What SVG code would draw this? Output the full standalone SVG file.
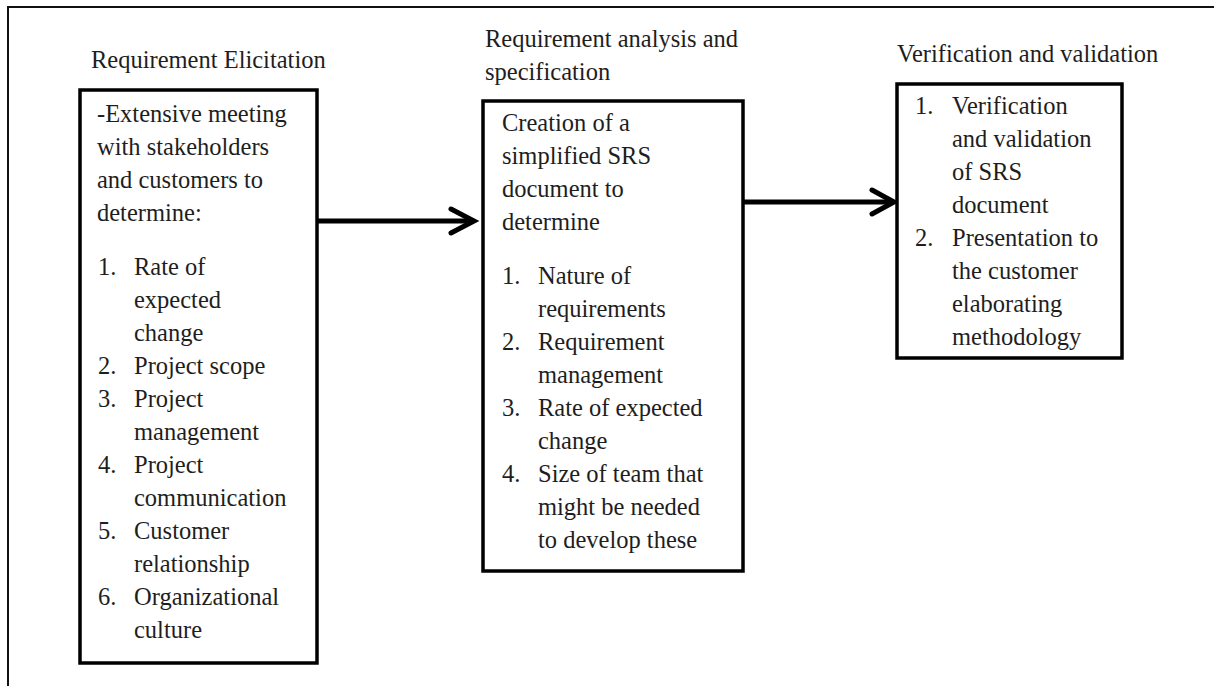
<svg xmlns="http://www.w3.org/2000/svg" width="1214" height="686" viewBox="0 0 1214 686">
<style>
  .t { font-family: "Liberation Serif", "Times New Roman", serif; font-size: 24.5px; fill: #1e1e1e; }
  .box { fill: #ffffff; stroke: #000000; stroke-width: 3.5; }
  .frame { fill: none; stroke: #111111; stroke-width: 2; }
  .conn { fill: none; stroke: #000000; stroke-width: 5; stroke-linecap: butt; }
  .head { fill: none; stroke: #000000; stroke-width: 5; stroke-linecap: round; stroke-linejoin: miter; }
</style>
<rect x="0" y="0" width="1214" height="686" fill="#ffffff"/>
<g id="frame">
  <path class="frame" d="M8,686 L8,7 L1214,7"/>
</g>
<g id="connectors">
  <line class="conn" x1="318" y1="221" x2="472" y2="221"/>
  <polyline class="head" points="451,209 474,221 451,233"/>
  <line class="conn" x1="743" y1="202" x2="892" y2="202"/>
  <polyline class="head" points="872,190 894,202 872,214"/>
</g>
<g id="node-elicitation">
  <text class="t" x="91" y="68">Requirement Elicitation</text>
  <rect class="box" x="80" y="90" width="237" height="573"/>
  <text class="t" x="97" y="122">-Extensive meeting</text>
  <text class="t" x="97" y="155">with stakeholders</text>
  <text class="t" x="97" y="188">and customers to</text>
  <text class="t" x="97" y="221">determine:</text>
  <text class="t" x="98" y="275">1.</text><text class="t" x="134" y="275">Rate of</text>
  <text class="t" x="134" y="308">expected</text>
  <text class="t" x="134" y="341">change</text>
  <text class="t" x="98" y="374">2.</text><text class="t" x="134" y="374">Project scope</text>
  <text class="t" x="98" y="407">3.</text><text class="t" x="134" y="407">Project</text>
  <text class="t" x="134" y="440">management</text>
  <text class="t" x="98" y="473">4.</text><text class="t" x="134" y="473">Project</text>
  <text class="t" x="134" y="506">communication</text>
  <text class="t" x="98" y="539">5.</text><text class="t" x="134" y="539">Customer</text>
  <text class="t" x="134" y="572">relationship</text>
  <text class="t" x="98" y="605">6.</text><text class="t" x="134" y="605">Organizational</text>
  <text class="t" x="134" y="638">culture</text>
</g>
<g id="node-analysis">
  <text class="t" x="485" y="47">Requirement analysis and</text>
  <text class="t" x="485" y="80">specification</text>
  <rect class="box" x="483" y="101" width="260" height="470"/>
  <text class="t" x="502" y="131">Creation of a</text>
  <text class="t" x="502" y="164">simplified SRS</text>
  <text class="t" x="502" y="197">document to</text>
  <text class="t" x="502" y="230">determine</text>
  <text class="t" x="502" y="284">1.</text><text class="t" x="538" y="284">Nature of</text>
  <text class="t" x="538" y="317">requirements</text>
  <text class="t" x="502" y="350">2.</text><text class="t" x="538" y="350">Requirement</text>
  <text class="t" x="538" y="383">management</text>
  <text class="t" x="502" y="416">3.</text><text class="t" x="538" y="416">Rate of expected</text>
  <text class="t" x="538" y="449">change</text>
  <text class="t" x="502" y="482">4.</text><text class="t" x="538" y="482">Size of team that</text>
  <text class="t" x="538" y="515">might be needed</text>
  <text class="t" x="538" y="548">to develop these</text>
</g>
<g id="node-verification">
  <text class="t" x="897" y="62">Verification and validation</text>
  <rect class="box" x="897" y="84" width="225" height="274"/>
  <text class="t" x="915" y="114">1.</text><text class="t" x="952" y="114">Verification</text>
  <text class="t" x="952" y="147">and validation</text>
  <text class="t" x="952" y="180">of SRS</text>
  <text class="t" x="952" y="213">document</text>
  <text class="t" x="915" y="246">2.</text><text class="t" x="952" y="246">Presentation to</text>
  <text class="t" x="952" y="279">the customer</text>
  <text class="t" x="952" y="312">elaborating</text>
  <text class="t" x="952" y="345">methodology</text>
</g>
</svg>
